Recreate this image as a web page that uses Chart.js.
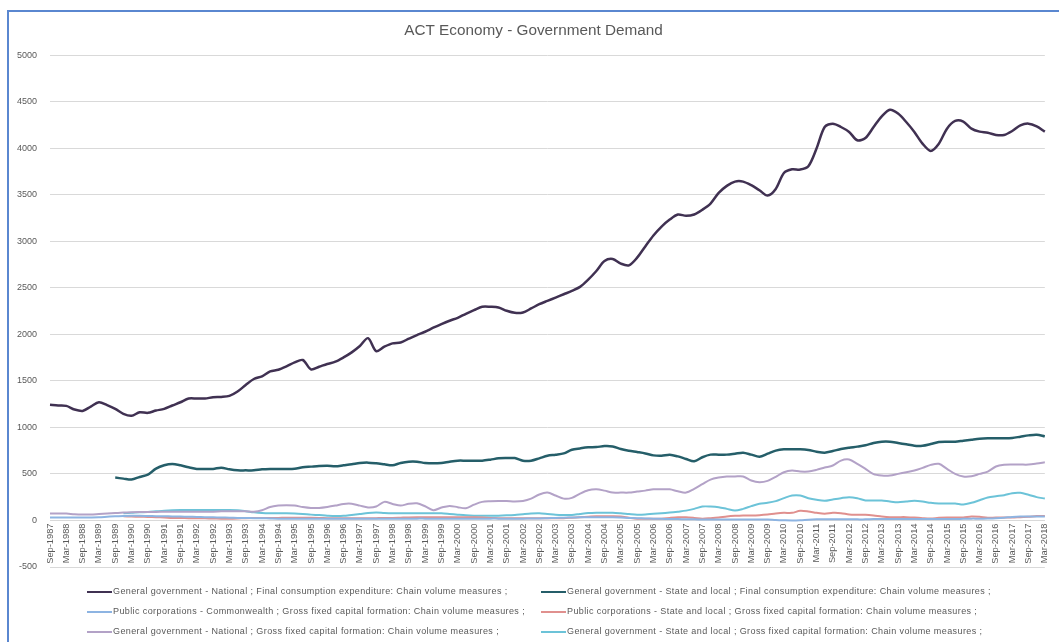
<!DOCTYPE html>
<html>
<head>
<meta charset="utf-8">
<title>ACT Economy - Government Demand</title>
<script src="https://cdn.jsdelivr.net/npm/chart.js@4.4.1/dist/chart.umd.min.js"></script>
<style>
  html, body { margin: 0; padding: 0; background: #fff; }
  #cadre {
    position: absolute; left: 7px; top: 10px; width: 1100px; height: 700px;
    border-left: 2px solid #5a87d0; border-top: 2px solid #5a87d0;
  }
  #cvs_gov { position: absolute; left: 0; top: 0; }
  #div_legenda {
    position: absolute; left: 0; top: 0; width: 1059px; height: 642px; pointer-events: none;
    font-family: "Liberation Sans", Arial, sans-serif; font-size: 9px; color: #595959;
    letter-spacing: 0.4px;
  }
  .item { position: absolute; white-space: nowrap; line-height: 12px; }
  .item span.linha { display: inline-block; width: 25px; height: 2px; vertical-align: middle; margin-right: 1px; }
</style>
</head>
<body>
<div id="cadre"></div>
<canvas id="cvs_gov" width="1059" height="642"></canvas>
<div id="div_legenda"></div>
<script>
// dados - trimestral, Sep-1987 a Mar-2018
const meses = ["Mar", "Jun", "Sep", "Dec"];
var trimestres = [];
for (let i = 0; i < 123; i++) {
  let q = i + 2; // comeca em Sep
  trimestres.push(meses[q % 4] + "-" + (1987 + Math.floor(q / 4)));
}

const ggNacionalConsumo = [
  1243, 1236, 1232, 1193, 1178, 1225, 1271, 1240, 1200, 1146,
  1125, 1164, 1157, 1182, 1200, 1236, 1271, 1311, 1311, 1311,
  1325, 1328, 1339, 1386, 1457, 1521, 1550, 1603, 1621, 1657,
  1700, 1725, 1625, 1653, 1682, 1707, 1753, 1807, 1875, 1960,
  1820, 1868, 1904, 1914, 1954, 1993, 2029, 2072, 2111, 2147,
  2179, 2222, 2261, 2297, 2297, 2290, 2254, 2232, 2236, 2279,
  2325, 2361, 2396, 2432, 2468, 2511, 2589, 2682, 2789, 2811,
  2761, 2743, 2825, 2946, 3064, 3160, 3235, 3289, 3275, 3289,
  3340, 3407, 3521, 3597, 3643, 3643, 3604, 3550, 3493, 3564,
  3736, 3776, 3772, 3808, 3998, 4230, 4266, 4230, 4177, 4087,
  4112, 4230, 4345, 4416, 4374, 4284, 4177, 4051, 3973, 4051,
  4212, 4295, 4288, 4212, 4180, 4169, 4144, 4144, 4187, 4248,
  4266, 4237, 4180
];

const ggEstadualConsumo = [
  null, null, null, null, null, null, null, null, 461, 450,
  440, 468, 493, 557, 593, 607, 593, 572, 554, 554,
  554, 568, 550, 539, 539, 539, 550, 554, 554, 554,
  557, 572, 579, 586, 589, 582, 593, 604, 618, 622,
  615, 604, 593, 618, 632, 632, 618, 614, 618, 632,
  643, 643, 643, 643, 654, 668, 671, 671, 643, 643,
  668, 696, 707, 721, 761, 775, 786, 789, 800, 796,
  768, 750, 736, 721, 700, 696, 707, 689, 661, 636,
  680, 708, 708, 708, 718, 729, 708, 686, 718, 751,
  765, 765, 765, 758, 740, 729, 747, 769, 783, 794,
  808, 833, 847, 847, 833, 819, 804, 804, 822, 844,
  847, 847, 858, 869, 879, 883, 883, 883, 887, 901,
  915, 922, 904
];

const pcCommonwealthCapital = [
  32, 32, 32, 32, 32, 33, 35, 40, 45, 48,
  50, 50, 48, 46, 45, 44, 42, 40, 38, 36,
  34, 32, 30, 28, 26, 25, 24, 22, 20, 20,
  20, 20, 20, 20, 20, 20, 20, 20, 20, 20,
  20, 20, 20, 20, 20, 20, 20, 18, 18, 18,
  18, 18, 18, 18, 20, 20, 20, 20, 20, 22,
  22, 25, 28, 30, 32, 35, 35, 35, 35, 35,
  32, 28, 25, 22, 20, 18, 15, 15, 14, 13,
  10, 10, 10, 10, 10, 10, 10, 10, 10, 5,
  2, 0, 2, 8, 12, 12, 12, 12, 12, 12,
  12, 15, 15, 15, 15, 15, 15, 15, 15, 15,
  15, 15, 18, 20, 20, 22, 25, 30, 38, 42,
  42, 42, 42
];

const pcEstadualCapital = [
  null, null, null, null, null, null, null, null, null, 45,
  43, 40, 38, 35, 32, 28, 27, 25, 24, 23,
  22, 20, 20, 22, 25, 27, 27, 27, 28, 30,
  30, 30, 30, 28, 25, 23, 23, 23, 23, 23,
  25, 27, 27, 30, 33, 34, 34, 34, 34, 34,
  34, 34, 34, 32, 28, 25, 23, 23, 23, 23,
  23, 23, 23, 25, 30, 35, 40, 45, 45, 45,
  42, 30, 20, 20, 20, 20, 28, 34, 34, 28,
  20, 25, 32, 43, 50, 54, 54, 57, 64, 75,
  82, 82, 104, 97, 82, 72, 82, 79, 64, 61,
  61, 54, 43, 36, 36, 36, 32, 25, 21, 29,
  32, 32, 32, 43, 39, 29, 32, 32, 32, 36,
  39, 47, 47
];

const ggNacionalCapital = [
  75, 75, 74, 68, 65, 65, 70, 75, 80, 85,
  88, 90, 90, 92, 95, 95, 95, 95, 95, 95,
  95, 98, 100, 100, 100, 95, 110, 145, 160, 165,
  160, 145, 135, 135, 145, 160, 178, 180, 160, 140,
  150, 200, 178, 160, 180, 185, 153, 110, 139, 157,
  143, 132, 170, 200, 207, 210, 210, 205, 210, 235,
  280, 300, 268, 235, 243, 289, 325, 335, 321, 300,
  300, 300, 311, 321, 335, 335, 335, 314, 300, 340,
  390, 440, 462, 473, 473, 473, 430, 412, 426, 469,
  519, 537, 526, 526, 544, 569, 591, 644, 655, 609,
  555, 498, 483, 483, 501, 519, 537, 566, 598, 609,
  555, 501, 473, 476, 501, 526, 580, 598, 601, 601,
  601, 612, 626
];

const ggEstadualCapital = [
  null, null, null, null, null, null, null, null, null, 77,
  82, 88, 91, 98, 105, 110, 113, 113, 113, 113,
  113, 113, 113, 110, 100, 88, 80, 77, 77, 77,
  75, 70, 63, 58, 52, 48, 50, 60, 70, 80,
  85, 80, 77, 77, 77, 77, 77, 77, 77, 70,
  62, 55, 52, 52, 52, 52, 55, 60, 68, 75,
  77, 70, 62, 59, 59, 70, 80, 84, 84, 84,
  78, 70, 63, 65, 72, 77, 85, 95, 106, 125,
  150, 150, 143, 125, 107, 125, 154, 179, 190, 208,
  240, 268, 268, 240, 222, 211, 226, 240, 251, 240,
  215, 215, 215, 204, 197, 204, 211, 204, 190, 183,
  183, 183, 172, 190, 218, 247, 261, 272, 294, 297,
  276, 251, 236
];

const nomesSeries = [
  "General government - National ;  Final consumption expenditure: Chain volume measures ;",
  "General government - State and local ;  Final consumption expenditure: Chain volume measures ;",
  "Public corporations - Commonwealth ;  Gross fixed capital formation: Chain volume measures ;",
  "Public corporations - State and local ;  Gross fixed capital formation: Chain volume measures ;",
  "General government - National ;  Gross fixed capital formation: Chain volume measures ;",
  "General government - State and local ;  Gross fixed capital formation: Chain volume measures ;"
];
const coresSeries = ["#403152", "#255e69", "#8db4e2", "#e0908e", "#b3a2c7", "#6cc3d8"];
const valoresSeries = [ggNacionalConsumo, ggEstadualConsumo, pcCommonwealthCapital,
  pcEstadualCapital, ggNacionalCapital, ggEstadualCapital];
const espessuras = [2.5, 2.5, 2, 2, 2, 2];

const yTicks = { min: -500, max: 5000, step: 500 };

Chart.defaults.font.family = "'Liberation Sans', Arial, sans-serif";
Chart.defaults.color = "#595959";

var datasets = [];
for (let i = 0; i < valoresSeries.length; i++) {
  datasets.push({
    label: nomesSeries[i],
    data: valoresSeries[i],
    borderColor: coresSeries[i],
    backgroundColor: coresSeries[i],
    borderWidth: espessuras[i],
    pointRadius: 0,
    tension: 0.3,
    fill: false
  });
}

new Chart(document.getElementById("cvs_gov"), {
  type: "line",
  data: { labels: trimestres, datasets: datasets },
  options: {
    responsive: false,
    animation: false,
    layout: { padding: { left: 14, right: 6, top: 12, bottom: 75 } },
    plugins: {
      legend: { display: false },
      tooltip: { enabled: false },
      title: {
        display: true,
        text: "ACT Economy - Government Demand",
        font: { size: 15.3, weight: "normal" },
        color: "#595959",
        padding: { top: 10, bottom: 15 }
      }
    },
    scales: {
      x: {
        position: { y: 0 },
        offset: false,
        grid: { display: false, drawTicks: false },
        border: { display: true, color: "#d9d9d9", width: 1 },
        ticks: {
          autoSkip: false,
          minRotation: 90,
          maxRotation: 90,
          padding: 3,
          font: { size: 9.3 },
          color: "#595959",
          callback: function (val, index) {
            return index % 2 == 0 ? this.getLabelForValue(val) : "";
          }
        },
        afterFit: function (scale) { scale.height = 0; }
      },
      y: {
        min: yTicks.min,
        max: yTicks.max,
        grid: { color: "#d9d9d9", lineWidth: 1, drawTicks: false },
        border: { display: false },
        ticks: {
          stepSize: yTicks.step,
          padding: 13,
          font: { size: 9 },
          color: "#595959",
          callback: function (valor) { return String(valor); }
        },
        afterFit: function (scale) { scale.width = 36; }
      }
    }
  }
});

// LEGENDA EM HTML - duas colunas
function montarLegenda() {
  var div = document.getElementById("div_legenda");
  var html = "";
  for (let i = 0; i < nomesSeries.length; i++) {
    let col = i % 2;
    let lin = Math.floor(i / 2);
    let x = col == 0 ? 87 : 541;
    let y = 585 + lin * 20;
    html += `<div class="item" style="left:${x}px; top:${y}px">
      <span class="linha" style="background:${coresSeries[i]}"></span>${nomesSeries[i]}</div>`;
  }
  div.innerHTML = html;
}
montarLegenda();
</script>
</body>
</html>
